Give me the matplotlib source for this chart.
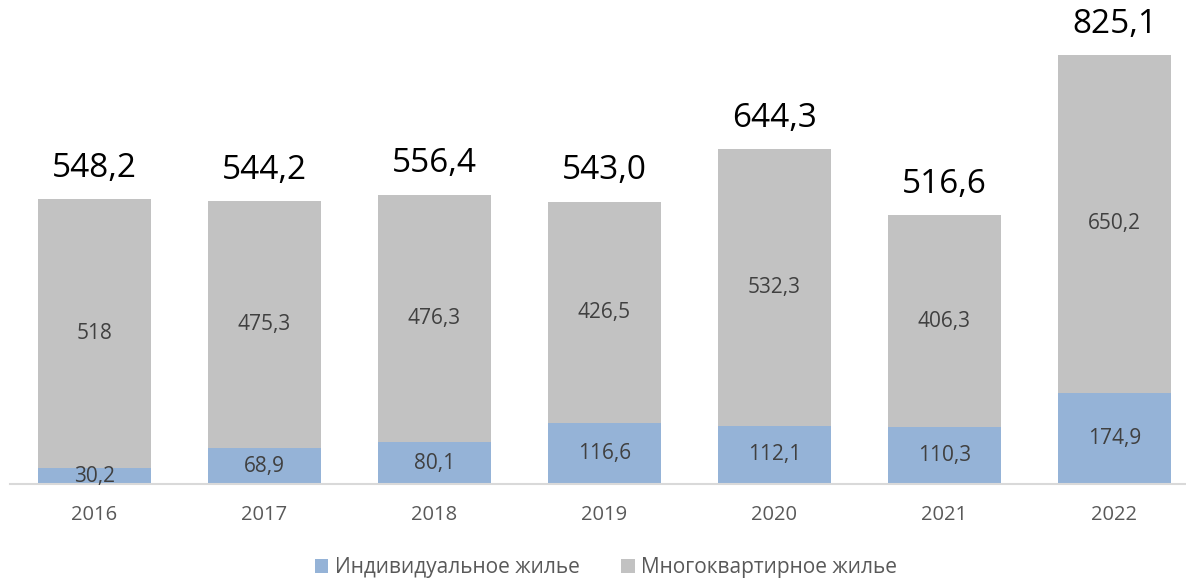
import numpy as np
import matplotlib.pyplot as plt
from matplotlib.patches import Patch

plt.rcParams['font.family'] = ['Open Sans', 'DejaVu Sans']

# данные
years = ['2016', '2017', '2018', '2019', '2020', '2021', '2022']
individual = [30.2, 68.9, 80.1, 116.6, 112.1, 110.3, 174.9]
multi = [518, 475.3, 476.3, 426.5, 532.3, 406.3, 650.2]
individual_labels = ['30,2', '68,9', '80,1', '116,6', '112,1', '110,3', '174,9']
multi_labels = ['518', '475,3', '476,3', '426,5', '532,3', '406,3', '650,2']
total_labels = ['548,2', '544,2', '556,4', '543,0', '644,3', '516,6', '825,1']

blue = '#95B3D7'
grey = '#C2C2C2'

fig = plt.figure(figsize=(11.86, 5.79), dpi=100)
W, H = 1186, 579
ax = fig.add_axes([9.5 / W, 1 - 484 / H, (W - 9.5) / W, 484 / H])

x = np.arange(len(years))
width = 113 / 170
ax.bar(x, individual, width=width, color=blue, zorder=2)
ax.bar(x, multi, width=width, bottom=individual, color=grey, zorder=2)

tops = np.array(individual) + np.array(multi)
for i in range(len(years)):
    ax.text(x[i], individual[i] / 2, individual_labels[i], ha='center', va='center',
            fontsize=15, color='#404040', zorder=3)
    ax.text(x[i], individual[i] + multi[i] / 2, multi_labels[i], ha='center', va='center',
            fontsize=15, color='#404040', zorder=3)
    ax.annotate(total_labels[i], (x[i], tops[i]), xytext=(0, 16), textcoords='offset points',
                ha='center', va='baseline', fontsize=24, color='black')

ax.set_xlim(-0.5, (W - 94.5) / 170)
ax.set_ylim(0, 484 / 0.52)
ax.set_xticks(x, years)
ax.tick_params(axis='x', length=0, pad=15, labelsize=14.5, labelcolor='#595959')
ax.set_yticks([])
for s in ['top', 'right', 'left']:
    ax.spines[s].set_visible(False)
ax.spines['bottom'].set_color('#D9D9D9')
ax.spines['bottom'].set_linewidth(1.5)

legend_elements = [
    Patch(facecolor=blue, label='Индивидуальное жилье'),
    Patch(facecolor=grey, label='Многоквартирное жилье'),
]
fig.legend(handles=legend_elements, loc='center', bbox_to_anchor=(606 / W, 1 - 568 / H),
           ncol=2, frameon=False, fontsize=15, labelcolor='#595959',
           handlelength=0.65, handleheight=0.65, handletextpad=0.3, columnspacing=2.0)

plt.savefig('out.png', dpi=100)
